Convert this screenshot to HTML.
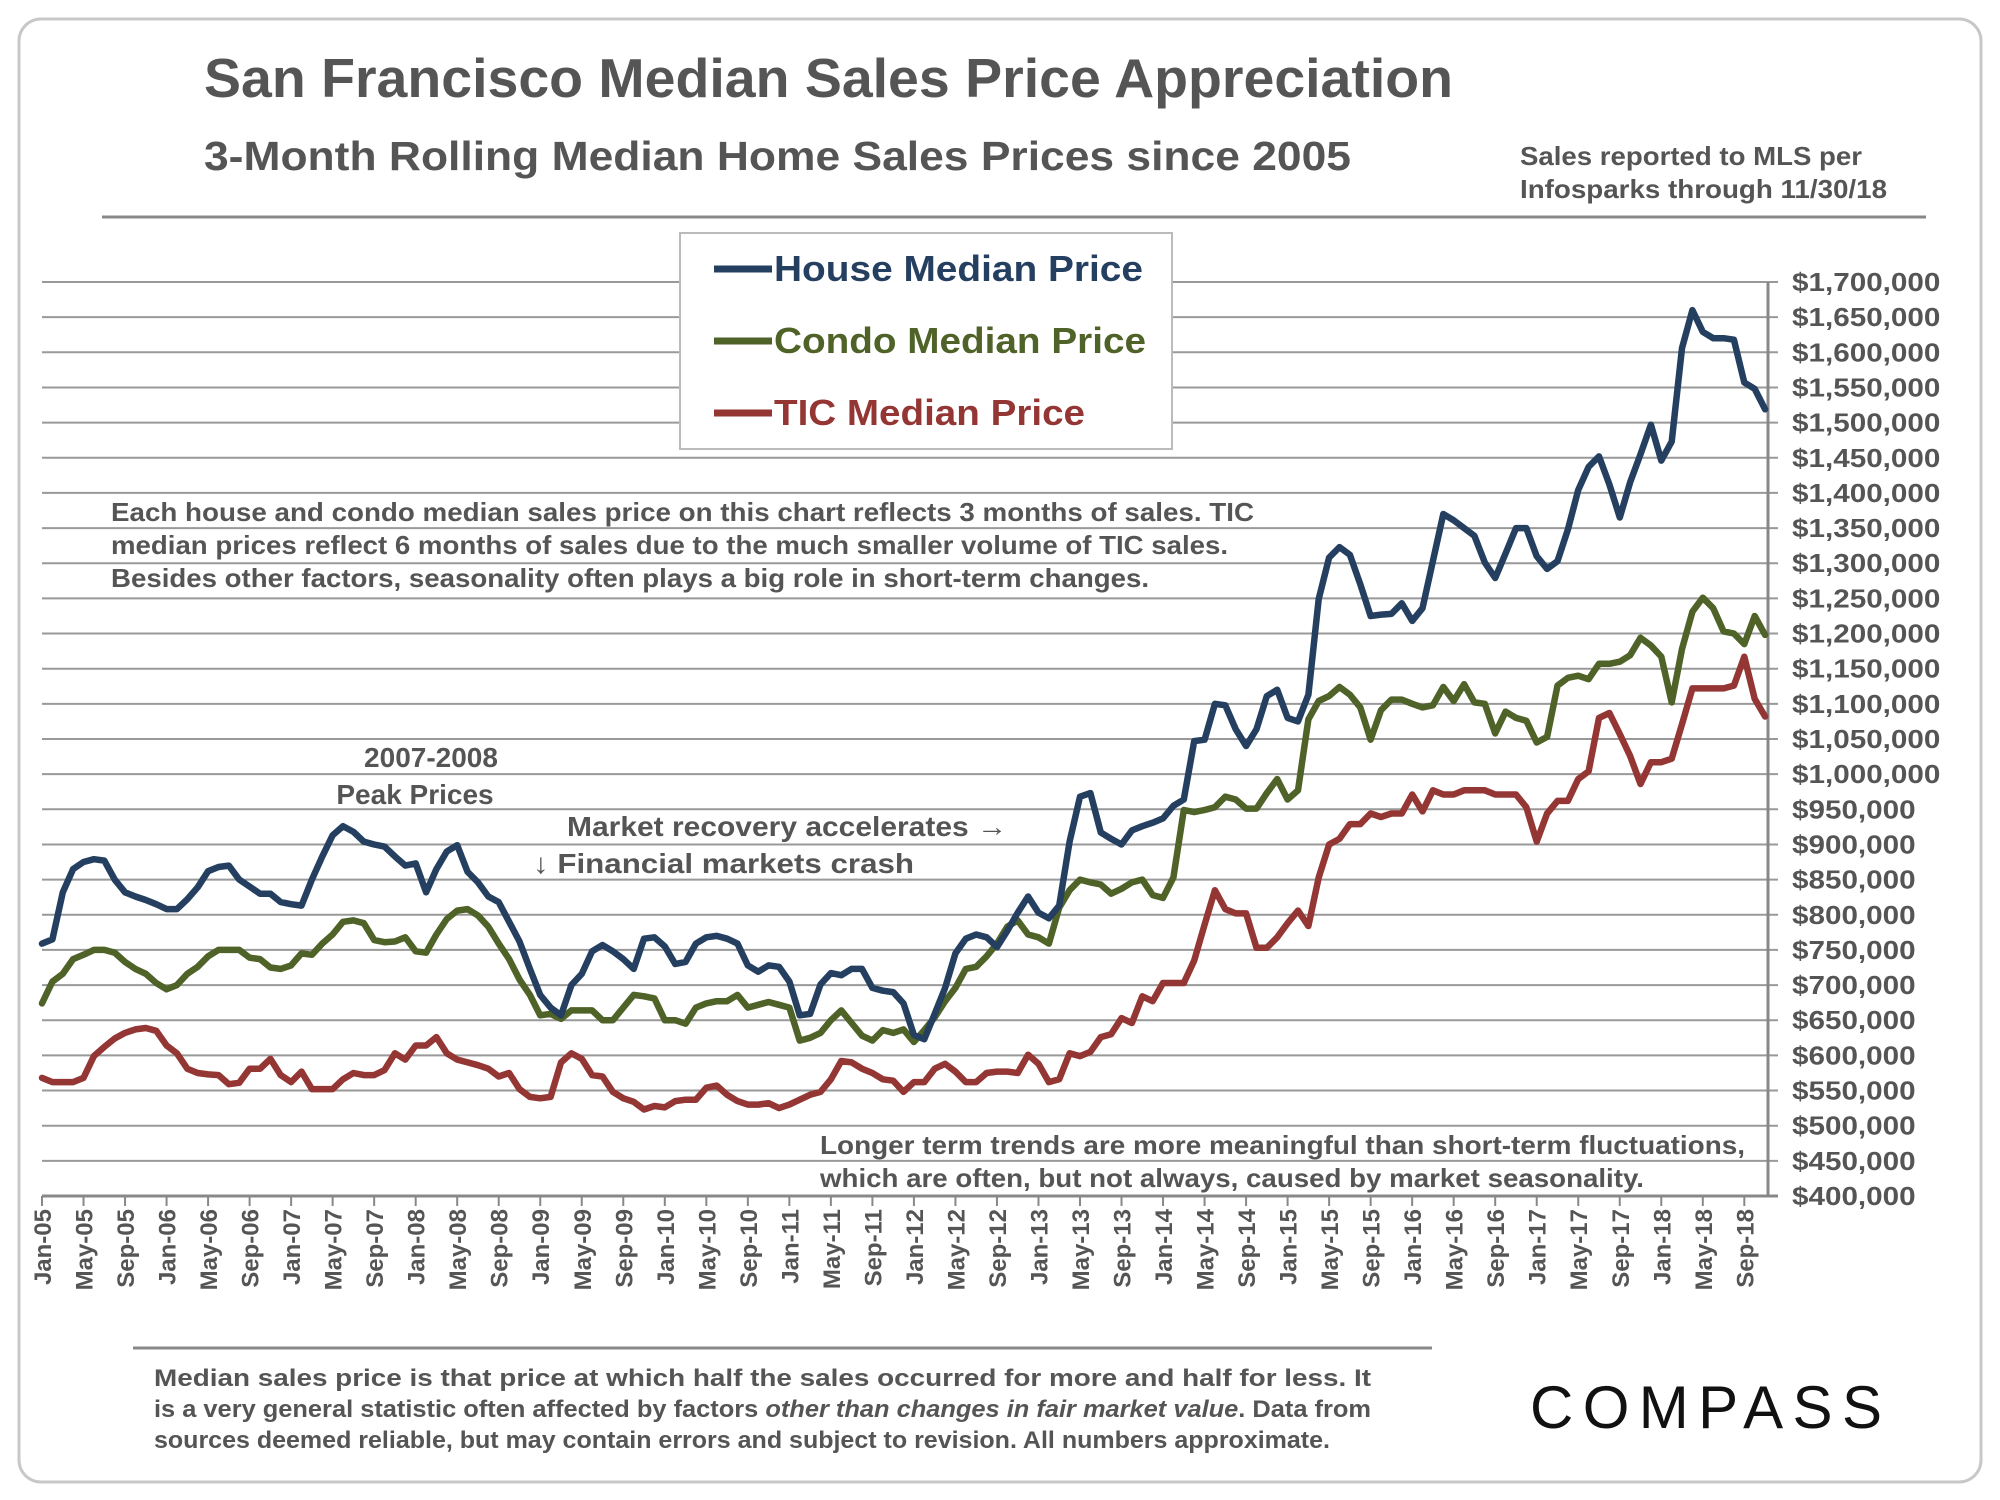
<!DOCTYPE html>
<html><head><meta charset="utf-8"><style>
html,body{margin:0;padding:0;background:#fff;}
svg{display:block;font-family:"Liberation Sans",Arial,sans-serif;}
</style></head><body>
<svg id="chart" width="2000" height="1500" viewBox="0 0 2000 1500">
<rect x="19" y="19" width="1962" height="1463" rx="22" fill="#fff" stroke="#c8c8c8" stroke-width="3"/>
<text x="204" y="97" font-size="55" font-weight="bold" fill="#555" textLength="1249" lengthAdjust="spacingAndGlyphs">San Francisco Median Sales Price Appreciation</text>
<text x="204" y="170" font-size="41" font-weight="bold" fill="#555" textLength="1147" lengthAdjust="spacingAndGlyphs">3-Month Rolling Median Home Sales Prices since 2005</text>
<text font-size="26" font-weight="bold" fill="#555"><tspan x="1520" y="165" textLength="342" lengthAdjust="spacingAndGlyphs">Sales reported to MLS per</tspan><tspan x="1520" y="198" textLength="367" lengthAdjust="spacingAndGlyphs">Infosparks through 11/30/18</tspan></text>
<line x1="102" y1="217" x2="1926" y2="217" stroke="#888" stroke-width="3"/>
<g id="grid"></g>
<g id="yticks"></g>
<g id="xticks"></g>
<g id="series"></g>
<g>
<rect x="680" y="233" width="492" height="216" fill="#fff" stroke="#bbb" stroke-width="2"/>
<line x1="714" y1="269" x2="772" y2="269" stroke="#243f60" stroke-width="7"/>
<text x="774" y="281" font-size="36" font-weight="bold" fill="#243f60" textLength="369" lengthAdjust="spacingAndGlyphs">House Median Price</text>
<line x1="714" y1="341" x2="772" y2="341" stroke="#4f6228" stroke-width="7"/>
<text x="774" y="353" font-size="36" font-weight="bold" fill="#4f6228" textLength="372" lengthAdjust="spacingAndGlyphs">Condo Median Price</text>
<line x1="714" y1="413" x2="772" y2="413" stroke="#943634" stroke-width="7"/>
<text x="774" y="425" font-size="36" font-weight="bold" fill="#943634" textLength="311" lengthAdjust="spacingAndGlyphs">TIC Median Price</text>
</g>
<text font-size="26" font-weight="bold" fill="#555"><tspan x="111" y="521" textLength="1143" lengthAdjust="spacingAndGlyphs">Each house and condo median sales price on this chart reflects 3 months of sales. TIC</tspan><tspan x="111" y="554" textLength="1117" lengthAdjust="spacingAndGlyphs">median prices reflect 6 months of sales due to the much smaller volume of TIC sales.</tspan><tspan x="111" y="587" textLength="1038" lengthAdjust="spacingAndGlyphs">Besides other factors, seasonality often plays a big role in short-term changes.</tspan></text>
<text font-size="28" font-weight="bold" fill="#555" text-anchor="middle"><tspan x="431" y="767">2007-2008</tspan><tspan x="415" y="804">Peak Prices</tspan></text>
<text x="567" y="836" font-size="28" font-weight="bold" fill="#555" textLength="440" lengthAdjust="spacingAndGlyphs">Market recovery accelerates →</text>
<text x="533" y="873" font-size="28" font-weight="bold" fill="#555" textLength="381" lengthAdjust="spacingAndGlyphs">↓ Financial markets crash</text>
<text font-size="26" font-weight="bold" fill="#555"><tspan x="820" y="1154" textLength="925" lengthAdjust="spacingAndGlyphs">Longer term trends are more meaningful than short-term fluctuations,</tspan><tspan x="820" y="1187" textLength="824" lengthAdjust="spacingAndGlyphs">which are often, but not always, caused by market seasonality.</tspan></text>
<line x1="133" y1="1348" x2="1432" y2="1348" stroke="#888" stroke-width="3"/>
<text font-size="24" font-weight="bold" fill="#555"><tspan x="154" y="1386" textLength="1217" lengthAdjust="spacingAndGlyphs">Median sales price is that price at which half the sales occurred for more and half for less. It</tspan><tspan x="154" y="1417" textLength="1217" lengthAdjust="spacingAndGlyphs">is a very general statistic often affected by factors <tspan font-style="italic">other than changes in fair market value</tspan>. Data from</tspan><tspan x="154" y="1448" textLength="1176" lengthAdjust="spacingAndGlyphs">sources deemed reliable, but may contain errors and subject to revision. All numbers approximate.</tspan></text>
<text x="1530" y="1428" font-size="60" fill="#111" letter-spacing="9" textLength="361">COMPASS</text>
</svg>
<script>
const house = [
759,765,832,865,875,879,877,850,832,826,821,815,
808,808,822,839,862,868,870,850,840,830,830,818,
815,813,850,883,913,926,918,904,900,897,883,870,
873,832,865,890,899,861,846,826,818,790,762,723,
686,668,657,700,716,748,757,748,737,723,766,768,
755,730,733,759,768,770,766,759,728,719,728,726,
705,657,659,701,717,714,723,723,696,692,690,674,
629,623,659,696,745,766,772,768,754,777,803,826,
803,795,813,904,968,973,917,908,900,920,926,931,
937,955,964,1047,1049,1100,1098,1064,1040,1064,1111,1120,
1080,1075,1113,1249,1308,1323,1312,1270,1225,1227,1228,1243,
1218,1236,1303,1370,1361,1350,1339,1301,1279,1314,1350,1350,
1310,1292,1303,1348,1404,1437,1452,1412,1365,1415,1455,1497,
1446,1473,1606,1660,1629,1620,1620,1618,1557,1548,1519];
const condo = [
674,705,716,737,743,750,750,746,733,723,716,703,
694,700,716,726,741,750,750,750,739,737,725,723,
728,745,743,759,772,790,792,788,764,761,762,768,
748,746,772,794,806,808,799,783,759,737,708,686,
657,659,652,664,664,664,650,650,668,686,684,681,
650,650,645,668,674,677,677,686,668,672,676,672,
668,621,625,632,650,664,646,628,621,636,632,637,
619,636,654,677,696,723,726,741,759,783,792,772,
768,759,810,835,850,846,843,830,837,846,850,828,
824,853,949,946,949,953,968,964,951,951,973,993,
964,977,1078,1104,1111,1124,1113,1095,1049,1091,1106,1106,
1100,1095,1098,1124,1104,1128,1102,1100,1058,1089,1080,1076,
1045,1053,1126,1137,1140,1135,1157,1157,1160,1169,1194,1183,
1167,1102,1178,1231,1251,1236,1203,1200,1185,1225,1198];
const tic = [
568,562,562,562,568,599,612,624,632,637,639,635,
614,603,581,575,573,572,559,561,581,581,595,572,
562,577,552,552,552,566,575,572,572,579,603,594,
614,614,626,603,594,590,586,581,570,575,552,541,
539,541,590,603,595,572,570,548,539,534,523,528,
526,535,537,537,554,557,544,535,530,530,532,525,
530,537,544,548,566,592,590,581,575,566,564,548,
562,562,581,588,577,562,562,575,577,577,575,601,
588,562,566,603,599,605,626,630,653,646,684,677,
703,703,703,735,786,835,808,802,802,753,753,768,
788,806,784,853,900,908,929,929,944,939,944,944,
971,947,977,971,971,977,977,977,971,971,971,953,
904,944,962,962,993,1004,1080,1087,1057,1026,986,1017,
1017,1022,1071,1122,1122,1122,1122,1126,1167,1107,1082];
const yTicks = [400,450,500,550,600,650,700,750,800,850,900,950,1000,1050,1100,1150,1200,1250,1300,1350,1400,1450,1500,1550,1600,1650,1700];
const monthNames = ["Jan","May","Sep"];
const startYear = 5, endYear = 18;

const NS = "http://www.w3.org/2000/svg";
const X0 = 42, XSTEP = 10.38, YTOP = 282, YBOT = 1196, XR = 1768;
const x = i => X0 + i * XSTEP;
const y = v => YBOT - (v - 400) / 1300 * (YBOT - YTOP);
function mk(tag, attrs, parent){ const e=document.createElementNS(NS,tag); for(const k in attrs) e.setAttribute(k,attrs[k]); parent.appendChild(e); return e; }
const grid=document.getElementById('grid'), yt=document.getElementById('yticks'), xt=document.getElementById('xticks'), ser=document.getElementById('series');
yTicks.forEach(v=>{
  const l=mk('line',{x1:X0,x2:XR+10,y1:y(v),y2:y(v),stroke:v===400?'#888':'#999','stroke-width':v===400?3:2},grid);
  
  
  const t=mk('text',{x:1792,y:y(v)+9,'font-size':26,'font-weight':'bold',fill:'#555'},yt);
  t.textContent='$'+(v*1000).toLocaleString('en-US');
  
  
  const w=t.getComputedTextLength();
  t.setAttribute('textLength',(w*1.14).toFixed(1));
  t.setAttribute('lengthAdjust','spacingAndGlyphs');
});
const ax=mk('line',{x1:XR,x2:XR,y1:YTOP,y2:YBOT,stroke:'#888','stroke-width':3},grid);


for(let yr=startYear; yr<=endYear; yr++){
  monthNames.forEach((m,k)=>{
    const idx=(yr-startYear)*12+k*4;
    if(idx>house.length-1) return;
    const tk=mk('line',{x1:x(idx),x2:x(idx),y1:YBOT,y2:YBOT+10,stroke:'#888','stroke-width':2},xt);
    
    
    const t=mk('text',{x:0,y:0,'font-size':24,'font-weight':'bold',fill:'#555','text-anchor':'end',transform:`translate(${x(idx)+9},1209) rotate(-90)`},xt);
    t.textContent=m+'-'+String(yr).padStart(2,'0');
    
    
  });
}
[[tic,'#943634','tic-line'],[condo,'#4f6228','condo-line'],[house,'#243f60','house-line']].forEach(([d,c,n])=>{
  const p=mk('polyline',{points:d.map((v,i)=>x(i).toFixed(1)+','+y(v).toFixed(1)).join(' '),fill:'none',stroke:c,'stroke-width':6.5,'stroke-linejoin':'round','stroke-linecap':'round'},ser);
  
  
});
</script>
</body></html>
